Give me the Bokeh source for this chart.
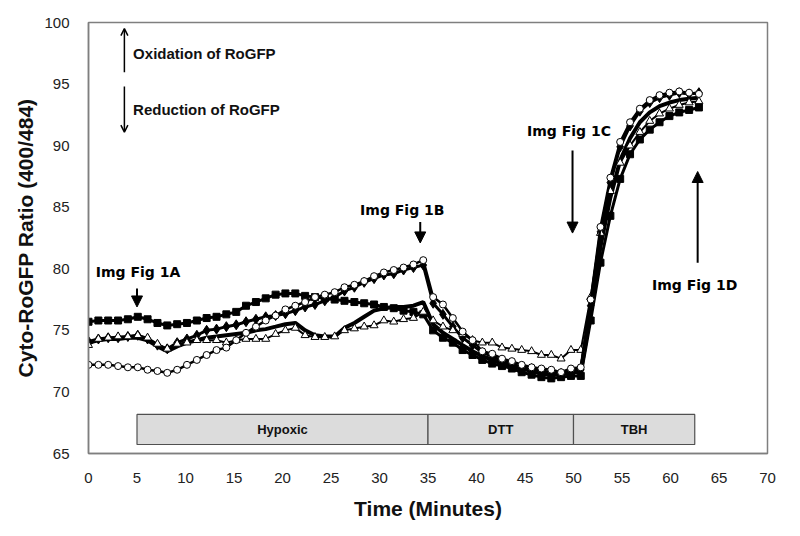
from bokeh.plotting import figure
from bokeh.models import Arrow, NormalHead, OpenHead, Label, FixedTicker, Range1d
from bokeh.core.properties import value
from bokeh.embed import file_html
from bokeh.resources import INLINE

# ---- data ----
times = [0, 1.02, 2.03, 3.05, 4.06, 5.08, 6.09, 7.11, 8.12, 9.14, 10.15, 11.17, 12.18, 13.2,
         14.21, 15.23, 16.24, 17.26, 18.27, 19.29, 20.3, 21.32, 22.33, 23.35, 24.36, 25.38,
         26.39, 27.41, 28.42, 29.44, 30.45, 31.47, 32.48, 33.5, 34.51, 35.53, 36.54, 37.56,
         38.57, 39.59, 40.6, 41.62, 42.63, 43.65, 44.66, 45.68, 46.69, 47.71, 48.72, 49.74,
         50.75, 51.77, 52.78, 53.8, 54.81, 55.83, 56.84, 57.86, 58.87, 59.89, 60.9, 61.92, 62.93]

squares = [75.7, 75.8, 75.8, 75.8, 75.9, 76.1, 75.9, 75.6, 75.4, 75.5, 75.6, 75.8, 76.0, 76.1,
           76.3, 76.5, 77.0, 77.3, 77.6, 77.9, 78.0, 78.0, 77.8, 77.7, 77.6, 77.5, 77.4, 77.3,
           77.2, 77.1, 76.9, 76.8, 76.6, 76.5, 76.3, 75.0, 74.4, 74.0, 73.4, 73.0, 72.6, 72.3,
           72.1, 71.9, 71.6, 71.4, 71.2, 71.1, 71.2, 71.3, 71.3, 75.8, 80.5, 84.3, 87.3, 89.3,
           90.5, 91.3, 91.9, 92.4, 92.7, 92.9, 93.1]

circles = [72.2, 72.2, 72.2, 72.1, 72.0, 72.0, 71.8, 71.7, 71.55, 71.8, 72.2, 72.6, 73.0, 73.4,
           73.6, 74.2, 74.8, 75.3, 75.8, 76.2, 76.7, 77.0, 77.3, 77.7, 77.9, 78.1, 78.5, 78.7,
           79.0, 79.4, 79.7, 79.9, 80.1, 80.35, 80.7, 77.7, 77.1, 76.0, 74.9, 74.2, 73.3, 73.1,
           72.7, 72.5, 72.2, 72.0, 71.9, 71.8, 71.6, 71.9, 72.0, 77.5, 83.4, 87.4, 90.3, 91.9,
           93.0, 93.7, 94.1, 94.3, 94.4, 94.3, 94.2]

triangles = [73.8, 74.3, 74.4, 74.5, 74.5, 74.6, 74.4, 73.9, 73.5, 73.9, 74.0, 74.2, 74.2, 74.2,
             74.0, 74.2, 74.3, 74.3, 74.3, 74.7, 75.0, 75.2, 74.6, 74.45, 74.45, 74.5, 75.0,
             75.15, 75.3, 75.4, 75.8, 75.7, 75.9, 76.0, 76.5, 75.8, 75.3, 75.0, 74.7, 74.2,
             74.0, 74.0, 73.6, 73.5, 73.4, 73.3, 73.0, 73.0, 72.7, 73.4, 73.4, 77.7, 82.9,
             86.3, 88.6, 90.0, 91.1, 92.0, 92.6, 93.0, 93.3, 93.5, 93.6]

diamonds = [74.1, 74.3, 74.4, 74.4, 74.5, 74.6, 74.3, 73.8, 73.5, 74.0, 74.3, 74.6, 75.0, 75.1,
            75.3, 75.45, 75.7, 75.9, 76.1, 76.2, 76.35, 76.6, 76.9, 77.1, 77.4, 77.7, 78.2,
            78.5, 78.9, 79.2, 79.5, 79.6, 79.9, 80.1, 80.3, 77.2, 76.3, 75.3, 74.4, 73.8, 73.2,
            72.9, 72.5, 72.3, 72.0, 71.9, 71.7, 71.6, 71.5, 71.7, 71.8, 77.0, 83.0, 87.0, 89.9,
            91.6, 92.8, 93.5, 93.9, 94.1, 94.3, 94.2, 94.3]

plain = [74.0, 74.2, 74.3, 74.3, 74.4, 74.4, 74.2, 73.7, 73.3, 73.7, 74.0, 74.2, 74.4, 74.5,
         74.6, 74.7, 74.8, 75.0, 75.1, 75.3, 75.5, 75.6, 75.0, 74.6, 74.5, 74.5, 75.2, 75.6,
         76.1, 76.6, 76.8, 76.9, 76.9, 77.0, 77.3, 75.5, 74.8, 74.3, 73.8, 73.3, 72.9, 72.6,
         72.3, 72.1, 71.9, 71.7, 71.5, 71.4, 71.4, 71.6, 71.6, 76.5, 81.8, 85.8, 88.8, 90.6,
         91.9, 92.7, 93.2, 93.5, 93.7, 93.8, 93.9]

phases = ["Hypoxic", "DTT", "TBH"]
phase_start = [5, 35, 50]
phase_end = [35, 50, 62.5]

x_ticks = list(range(0, 71, 5))
y_ticks = list(range(65, 101, 5))

fig_labels = ["Img Fig 1A", "Img Fig 1B", "Img Fig 1C", "Img Fig 1D"]
fig_label_x = [0.75, 28.0, 45.2, 58.1]
fig_label_y = [79.7, 84.8, 91.2, 78.7]
fig_arrow_x = [5.0, 34.2, 49.9, 62.8]
fig_arrow_tail = [78.4, 83.8, 89.6, 80.5]
fig_arrow_head = [76.9, 82.1, 82.9, 87.9]

# ---- figure ----
p = figure(width=792, height=528, output_backend="svg", toolbar_location=None,
           x_range=Range1d(0, 70), y_range=Range1d(65, 100),
           min_border_left=88, min_border_right=25, min_border_top=22, min_border_bottom=75)
p.frame_width = 679
p.frame_height = 431
p.xgrid.visible = False
p.ygrid.visible = False
p.outline_line_color = "#7f7f7f"
p.outline_line_width = 1.5
p.background_fill_color = "white"
p.border_fill_color = "white"

for ax in (p.xaxis[0], p.yaxis[0]):
    ax.axis_line_color = "#7f7f7f"
    ax.axis_line_width = 1.5
    ax.major_tick_line_color = None
    ax.minor_tick_line_color = None
    ax.major_label_text_font = "Liberation Sans"
    ax.major_label_text_font_size = "15px"
    ax.major_label_text_color = "#222222"
    ax.axis_label_text_font = "Liberation Sans"
    ax.axis_label_text_font_style = "bold"
    ax.axis_label_text_color = "#111111"

p.xaxis.ticker = FixedTicker(ticks=x_ticks)
p.yaxis.ticker = FixedTicker(ticks=y_ticks)
p.xaxis.axis_label = "Time (Minutes)"
p.yaxis.axis_label = "Cyto-RoGFP Ratio (400/484)"
p.xaxis.axis_label_text_font_size = "21px"
p.yaxis.axis_label_text_font_size = "21px"
p.xaxis.major_label_standoff = 13
p.yaxis.major_label_standoff = 13
p.xaxis.axis_label_standoff = 11
p.yaxis.axis_label_standoff = 4

# phase bars
p.quad(left=phase_start, right=phase_end, bottom=65.73, top=68.17,
       fill_color="#dcdcdc", line_color="#505050", line_width=1.2)
phase_mid = [(a + b) / 2 for a, b in zip(phase_start, phase_end)]
p.text(x=phase_mid, y=[66.95] * 3, text=phases, text_align="center", text_baseline="middle",
       text_font=value("Liberation Sans"), text_font_style="bold",
       text_font_size="13px", text_color="#111111")

# series
p.line(times, plain, line_color="black", line_width=4)
p.line(times, squares, line_color="black", line_width=3)
p.scatter(times, squares, marker="square", size=7, fill_color="black", line_color="black")
p.line(times, diamonds, line_color="black", line_width=3)
p.scatter(times, diamonds, marker="diamond", size=10, fill_color="black", line_color="black")
p.line(times, triangles, line_color="black", line_width=2)
p.scatter(times, triangles, marker="triangle", size=8, fill_color="white", line_color="black",
          line_width=1)
p.line(times, circles, line_color="black", line_width=2.5)
p.scatter(times, circles, marker="circle", size=7, fill_color="white", line_color="black",
          line_width=1)

# annotations
for lab, lx, ly in zip(fig_labels, fig_label_x, fig_label_y):
    p.add_layout(Label(x=lx, y=ly, text=lab, text_font="DejaVu Sans", text_font_style="bold",
                       text_font_size="14px", text_baseline="middle", text_color="black"))
for ax_, t0, t1 in zip(fig_arrow_x, fig_arrow_tail, fig_arrow_head):
    p.add_layout(Arrow(x_start=ax_, y_start=t0, x_end=ax_, y_end=t1, line_width=2,
                       line_color="black",
                       end=NormalHead(size=11, fill_color="black", line_color="black")))

p.add_layout(Arrow(x_start=3.7, y_start=95.95, x_end=3.7, y_end=99.5, line_width=1.5,
                   end=OpenHead(size=7, line_width=1.5)))
p.add_layout(Arrow(x_start=3.7, y_start=94.8, x_end=3.7, y_end=91.1, line_width=1.5,
                   end=OpenHead(size=7, line_width=1.5)))
p.add_layout(Label(x=4.6, y=97.5, text="Oxidation of RoGFP", text_font="Liberation Sans",
                   text_font_style="bold", text_font_size="15px", text_baseline="middle",
                   text_color="#111111"))
p.add_layout(Label(x=4.6, y=92.95, text="Reduction of RoGFP", text_font="Liberation Sans",
                   text_font_style="bold", text_font_size="15px", text_baseline="middle",
                   text_color="#111111"))

open("out.html", "w").write(file_html(p, INLINE))
